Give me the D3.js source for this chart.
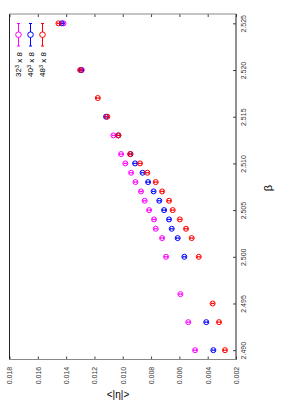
<!DOCTYPE html>
<html>
<head>
<meta charset="utf-8">
<script src="https://cdnjs.cloudflare.com/ajax/libs/d3/7.8.5/d3.min.js"></script>
<style>
  body { margin: 0; background: #fff; }
  text { font-family: "Liberation Sans", Arial, sans-serif; }
</style>
</head>
<body>
<div id="viz"></div>
<script>
// values (beta, <|eta|>, error)
var beta32 = [2.490, 2.493, 2.496, 2.500, 2.502, 2.503, 2.504, 2.505, 2.506, 2.507, 2.508, 2.509, 2.510, 2.511, 2.513, 2.520, 2.525];
var eta32  = [0.00489, 0.00537, 0.00593, 0.00694, 0.00722, 0.00767, 0.00779, 0.00814, 0.00845, 0.00871, 0.00910, 0.00941, 0.00982, 0.01012, 0.01066, 0.01289, 0.01419];
var err32  = [0.00010, 0.00010, 0.00010, 0.00010, 0.00010, 0.00010, 0.00010, 0.00010, 0.00010, 0.00010, 0.00010, 0.00010, 0.00010, 0.00010, 0.00010, 0.00010, 0.00010];

var beta40 = [2.490, 2.493, 2.500, 2.502, 2.503, 2.504, 2.505, 2.506, 2.507, 2.508, 2.509, 2.510, 2.511, 2.513, 2.515, 2.520, 2.525];
var eta40  = [0.00360, 0.00410, 0.00565, 0.00612, 0.00654, 0.00673, 0.00708, 0.00742, 0.00782, 0.00821, 0.00860, 0.00913, 0.00945, 0.01031, 0.01118, 0.01294, 0.01431];
var err40  = [0.00010, 0.00010, 0.00010, 0.00010, 0.00010, 0.00010, 0.00010, 0.00010, 0.00010, 0.00010, 0.00010, 0.00010, 0.00010, 0.00010, 0.00010, 0.00010, 0.00010];

var beta48 = [2.490, 2.493, 2.495, 2.500, 2.502, 2.503, 2.504, 2.505, 2.506, 2.507, 2.508, 2.509, 2.510, 2.511, 2.513, 2.515, 2.517, 2.520, 2.525];
var eta48  = [0.00278, 0.00320, 0.00365, 0.00463, 0.00513, 0.00553, 0.00597, 0.00647, 0.00673, 0.00722, 0.00767, 0.00826, 0.00878, 0.00948, 0.01031, 0.01109, 0.01176, 0.01301, 0.01454];
var err48  = [0.00010, 0.00010, 0.00010, 0.00010, 0.00010, 0.00010, 0.00010, 0.00010, 0.00010, 0.00010, 0.00010, 0.00010, 0.00010, 0.00010, 0.00010, 0.00010, 0.00010, 0.00010, 0.00010];

var sizes  = ["32", "40", "48"];
var colors = ["#ff00ff", "#0000ff", "#ff0000"];

var betaTicks = [2.490, 2.495, 2.500, 2.505, 2.510, 2.515, 2.520, 2.525];
var etaTicks  = [0.018, 0.016, 0.014, 0.012, 0.010, 0.008, 0.006, 0.004, 0.002];

var width = 283, height = 403;
var fLeft = 9.5, fRight = 236, fTop = 14, fBottom = 359.5;

var series = [
  {beta: beta32, eta: eta32, err: err32},
  {beta: beta40, eta: eta40, err: err40},
  {beta: beta48, eta: eta48, err: err48}
];

// chart is drawn turned on its side: beta runs up, <|eta|> runs right to left
var x = d3.scaleLinear().domain([0.002, 0.018]).range([fRight, fLeft]);
var y = d3.scaleLinear().domain([2.489, 2.526]).range([fBottom, fTop]);

var svg = d3.select("#viz").append("svg")
  .attr("width", width)
  .attr("height", height);

// beta axis on the right
var yAxis = svg.append("g")
  .attr("transform", "translate(" + fRight + ",0)")
  .call(d3.axisRight(y).tickValues(betaTicks).tickSizeInner(-3).tickSizeOuter(0).tickFormat(d3.format(".3f")));
yAxis.select(".domain").remove();
yAxis.selectAll("line").attr("stroke", "#444");
yAxis.selectAll("text")
  .attr("x", 0).attr("dy", "0.35em")
  .attr("transform", "translate(8,0) rotate(-90)")
  .attr("text-anchor", "middle")
  .attr("font-size", 7)
  .attr("fill", "#333");

// eta axis at the bottom
var xAxis = svg.append("g")
  .attr("transform", "translate(0," + fBottom + ")")
  .call(d3.axisBottom(x).tickValues(etaTicks).tickSizeInner(-3).tickSizeOuter(0).tickFormat(d3.format(".3f")));
xAxis.select(".domain").remove();
xAxis.selectAll("line").attr("stroke", "#444");
xAxis.selectAll("text")
  .attr("y", 0).attr("dy", "0.35em")
  .attr("transform", "translate(0,16) rotate(-90)")
  .attr("text-anchor", "middle")
  .attr("font-size", 7)
  .attr("fill", "#333");

// mirror ticks on top
var x2Axis = svg.append("g")
  .attr("transform", "translate(0," + fTop + ")")
  .call(d3.axisTop(x).tickValues(etaTicks).tickSizeInner(-3).tickSizeOuter(0).tickFormat(""));
x2Axis.select(".domain").remove();
x2Axis.selectAll("line").attr("stroke", "#444");

// frame
svg.append("line").attr("x1", fLeft).attr("x2", fLeft).attr("y1", fTop).attr("y2", fBottom).attr("stroke", "#222");
svg.append("line").attr("x1", fRight).attr("x2", fRight).attr("y1", fTop).attr("y2", fBottom).attr("stroke", "#222");
svg.append("line").attr("x1", fLeft).attr("x2", fRight).attr("y1", fTop).attr("y2", fTop).attr("stroke", "#888");
svg.append("line").attr("x1", fLeft).attr("x2", fRight).attr("y1", fBottom).attr("y2", fBottom).attr("stroke", "#888");

// points
series.forEach(function(s, k) {
  var pts = s.beta.map(function(b, i) { return {b: b, v: s.eta[i], e: s.err[i]}; });
  var g = svg.append("g").attr("stroke", colors[k]).attr("fill", "none").attr("stroke-width", 1);

  g.selectAll(".eb")
    .data(pts).join("line")
    .attr("x1", function(d) { return x(d.v - d.e); })
    .attr("x2", function(d) { return x(d.v + d.e); })
    .attr("y1", function(d) { return y(d.b); })
    .attr("y2", function(d) { return y(d.b); });

  [-1, 1].forEach(function(sg) {
    g.selectAll(".cap" + sg)
      .data(pts).enter().append("line")
      .attr("x1", function(d) { return x(d.v + sg * d.e); })
      .attr("x2", function(d) { return x(d.v + sg * d.e); })
      .attr("y1", function(d) { return y(d.b) - 1; })
      .attr("y2", function(d) { return y(d.b) + 1; });
  });

  g.selectAll("circle")
    .data(pts).join("circle")
    .attr("cx", function(d) { return x(d.v); })
    .attr("cy", function(d) { return y(d.b); })
    .attr("r", 2.5);
});

// legend (top left)
sizes.forEach(function(sz, k) {
  var cx = 18.5 + k * 12;
  var g = svg.append("g");
  g.append("line").attr("x1", cx).attr("x2", cx).attr("y1", 23.5).attr("y2", 46)
    .attr("stroke", colors[k]);
  g.append("line").attr("x1", cx - 1.5).attr("x2", cx + 1.5).attr("y1", 23.5).attr("y2", 23.5)
    .attr("stroke", colors[k]);
  g.append("line").attr("x1", cx - 1.5).attr("x2", cx + 1.5).attr("y1", 46).attr("y2", 46)
    .attr("stroke", colors[k]);
  g.append("circle").attr("cx", cx).attr("cy", 34.7).attr("r", 2.8)
    .attr("fill", "#fff").attr("stroke", colors[k]);

  var t = g.append("text")
    .attr("transform", "translate(" + cx + ",52) rotate(-90)")
    .attr("text-anchor", "end")
    .attr("dy", "0.35em")
    .attr("font-size", 8)
    .attr("fill", "#000");
  t.append("tspan").text(sz);
  t.append("tspan").attr("dy", "-0.4em").attr("font-size", 5.5).text("3");
  t.append("tspan").attr("dy", "0.4em").text(" x 8");
});

// axis titles
svg.append("text")
  .attr("transform", "translate(268,188) rotate(-90)")
  .attr("text-anchor", "middle")
  .attr("dy", "0.35em")
  .attr("font-size", 11)
  .text("β");

svg.append("text")
  .attr("x", 118).attr("y", 398)
  .attr("text-anchor", "middle")
  .attr("font-size", 10)
  .text("<|η|>");
</script>
</body>
</html>
